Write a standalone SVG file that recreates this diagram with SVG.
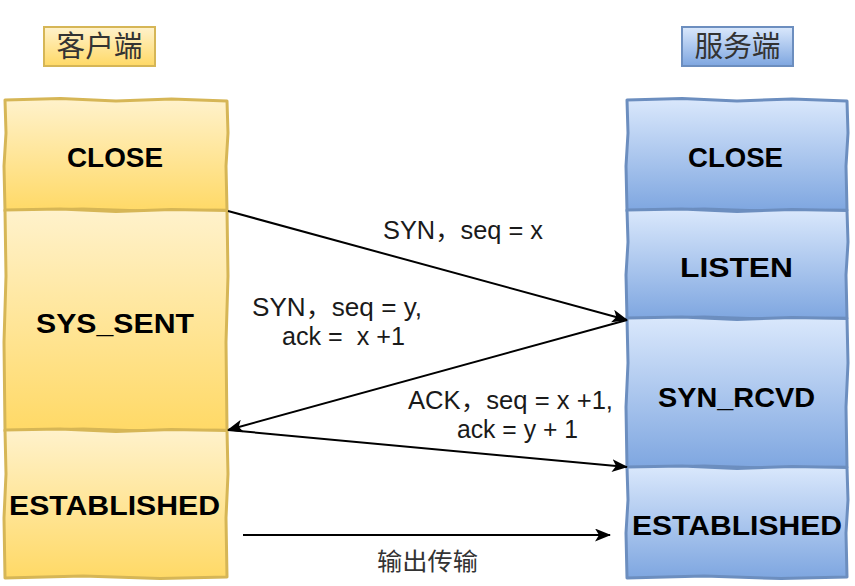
<svg xmlns="http://www.w3.org/2000/svg" width="855" height="586" viewBox="0 0 855 586">
  <defs>
    <linearGradient id="gy" x1="0" y1="0" x2="0" y2="1">
      <stop offset="0" stop-color="#fff2cc"/>
      <stop offset="1" stop-color="#ffd966"/>
    </linearGradient>
    <linearGradient id="gb" x1="0" y1="0" x2="0" y2="1">
      <stop offset="0" stop-color="#dae8fc"/>
      <stop offset="1" stop-color="#7ea6e0"/>
    </linearGradient>
    <marker id="arr" viewBox="0 0 16 13" refX="15" refY="6.5" markerWidth="16" markerHeight="13" markerUnits="userSpaceOnUse" orient="auto">
      <path d="M0,0 L16,6.5 L0,13 L4,6.5 Z" fill="#000"/>
    </marker>
    <style>
      .yb { fill: url(#gy); stroke: #d6b656; stroke-width: 3; stroke-linejoin: round; }
      .bb { fill: url(#gb); stroke: #6c8ebf; stroke-width: 3; stroke-linejoin: round; }
      .hy { fill: url(#gy); stroke: #d6b656; stroke-width: 2; }
      .hb { fill: url(#gb); stroke: #6c8ebf; stroke-width: 2; }
      .st { font-family: "Liberation Sans", "DejaVu Sans", sans-serif; font-weight: bold; font-size: 28px; fill: #000; text-anchor: middle; }
      .hd { font-family: "Noto Sans CJK SC", sans-serif; font-size: 29px; fill: #333; text-anchor: middle; }
      .lb { font-family: "Liberation Sans", "Noto Sans CJK SC", sans-serif; font-size: 25px; fill: #1a1a1a; white-space: pre; }
      .cn { stroke: #000; stroke-width: 2; fill: none; marker-end: url(#arr); }
    </style>
  </defs>
  <rect width="855" height="586" fill="#fff"/>

  <g id="client-header">
    <rect class="hy" x="44" y="27" width="111" height="39"/>
    <text class="hd" x="99.5" y="57" textLength="86" lengthAdjust="spacingAndGlyphs">客户端</text>
  </g>
  <g id="server-header">
    <rect class="hb" x="682" y="27" width="111" height="39"/>
    <text class="hd" x="737.5" y="57" textLength="86" lengthAdjust="spacingAndGlyphs">服务端</text>
  </g>

  <g id="client-close">
    <path class="yb" d="M5,100 L60.5,98.5 L116,101 L171.5,99 L227,101 L228,133 L226,166 L227,210 L160.4,211.5 L82.7,209 L5,211 L4,166 L6,133 Z"/>
    <text class="st" x="115" y="167" textLength="96" lengthAdjust="spacingAndGlyphs">CLOSE</text>
  </g>
  <g id="client-sys-sent">
    <path class="yb" d="M5,210 L60.5,209 L116,211.5 L171.5,209.5 L227,210.5 L228,276 L226,342 L227,430 L160,431.5 L83,429 L5,431 L4,342 L6,276 Z"/>
    <text class="st" x="115" y="333" textLength="158" lengthAdjust="spacingAndGlyphs">SYS_SENT</text>
  </g>
  <g id="client-established">
    <path class="yb" d="M5,430 L60,429 L116,431.5 L171,429.5 L227,430.5 L228,474 L226,518 L227,577 L160,578.5 L83,576 L5,578 L4,518 L6,474 Z"/>
    <text class="st" x="114.5" y="515" textLength="211" lengthAdjust="spacingAndGlyphs">ESTABLISHED</text>
  </g>

  <g id="server-close">
    <path class="bb" d="M627,100 L682,98.5 L737,101 L792,99 L847,101 L848,133 L846,166 L847,210 L781,211.5 L704,209 L627,211 L626,166 L628,133 Z"/>
    <text class="st" x="735.5" y="167" textLength="95" lengthAdjust="spacingAndGlyphs">CLOSE</text>
  </g>
  <g id="server-listen">
    <path class="bb" d="M627,210 L682,209 L737,211.5 L792,209.5 L847,210.5 L848,242 L846,275 L847,318 L781,319.5 L704,317 L627,319 L626,275 L628,242 Z"/>
    <text class="st" x="736.5" y="277" textLength="113" lengthAdjust="spacingAndGlyphs">LISTEN</text>
  </g>
  <g id="server-syn-rcvd">
    <path class="bb" d="M627,318 L682,317 L737,319.5 L792,317.5 L847,318.5 L848,363 L846,407 L847,467 L781,468.5 L704,466 L627,468 L626,407 L628,363 Z"/>
    <text class="st" x="736.5" y="407" textLength="157" lengthAdjust="spacingAndGlyphs">SYN_RCVD</text>
  </g>
  <g id="server-established">
    <path class="bb" d="M627,467 L682,466 L737,468.5 L792,466.5 L847,467.5 L848,500 L846,533 L847,577 L781,578.5 L704,576 L627,578 L626,533 L628,500 Z"/>
    <text class="st" x="737" y="535" textLength="210" lengthAdjust="spacingAndGlyphs">ESTABLISHED</text>
  </g>

  <g id="connectors">
    <line class="cn" x1="228" y1="211" x2="627" y2="320"/>
    <line class="cn" x1="627" y1="320" x2="228" y2="430"/>
    <line class="cn" x1="228" y1="430" x2="627" y2="467"/>
    <line class="cn" x1="243" y1="535" x2="610" y2="535"/>
    <text class="lb" x="383" y="239" textLength="160" lengthAdjust="spacingAndGlyphs">SYN，seq = x</text>
    <text class="lb" x="252" y="316" textLength="170" lengthAdjust="spacingAndGlyphs">SYN，seq = y,</text>
    <text class="lb" x="282" y="345" textLength="123" lengthAdjust="spacingAndGlyphs">ack =  x +1</text>
    <text class="lb" x="408" y="409" textLength="205" lengthAdjust="spacingAndGlyphs">ACK，seq = x +1,</text>
    <text class="lb" x="457" y="438" textLength="121" lengthAdjust="spacingAndGlyphs">ack = y + 1</text>
    <text class="lb" x="377" y="570" textLength="101" lengthAdjust="spacingAndGlyphs" style="font-family:'Noto Sans CJK SC',sans-serif;font-size:24px;fill:#333">输出传输</text>
  </g>
</svg>
